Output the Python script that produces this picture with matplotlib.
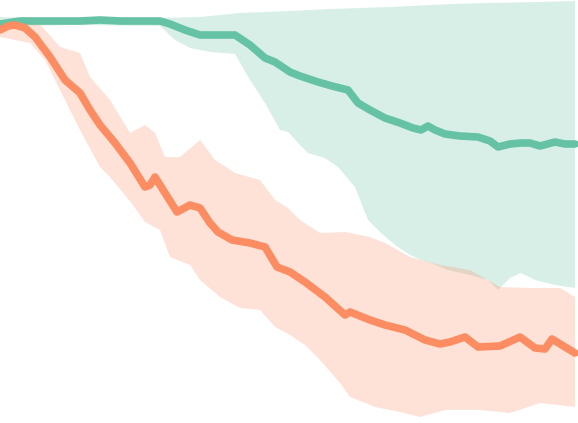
import matplotlib.pyplot as plt

# green series (mean line + band)
green_x = [0, 20, 40, 60, 80, 100, 120, 140, 160, 170, 185, 200, 215, 235, 250, 265, 275, 290, 300, 318,
           332, 348, 358, 370, 385, 400, 413, 421, 428, 435, 445, 460, 478, 490, 498, 510, 521, 530, 540,
           555, 565, 575]
green_y = [24, 21, 21, 21, 21, 20, 21, 21, 21, 24, 30, 35, 35, 35, 45, 58, 62, 72, 76, 82,
           86, 90, 103, 110, 118, 123, 128, 130, 126, 130, 134, 136, 137, 141, 147, 144, 143, 143, 146,
           142, 144, 144]
green_up_x = [0, 40, 80, 120, 160, 200, 240, 290, 330, 390, 450, 490, 540, 575]
green_up_y = [17, 18, 18, 18, 18, 17, 13, 11, 9, 7, 4, 3, 2, 1]
green_lo_x = [0, 80, 160, 175, 190, 210, 235, 250, 265, 280, 288, 300, 308, 325, 338, 355, 362, 368,
              381, 395, 410, 421, 431, 448, 470, 488, 498, 510, 521, 535, 555, 575]
green_lo_y = [26, 25, 26, 40, 48, 52, 54, 80, 103, 130, 132, 145, 153, 158, 167, 187, 205, 220,
              233, 245, 255, 260, 263, 270, 275, 280, 290, 278, 273, 280, 285, 288]

# orange series
orange_x = [0, 8, 15, 25, 35, 50, 65, 80, 90, 100, 115, 130, 145, 150, 155, 160, 165, 177, 190, 200,
            210, 218, 232, 250, 265, 277, 290, 305, 325, 345, 350, 370, 385, 405, 425, 440, 450, 465,
            478, 500, 520, 535, 545, 552, 565, 575]
orange_y = [30, 26, 25, 28, 37, 57, 80, 93, 110, 125, 143, 163, 187, 185, 177, 185, 193, 212, 205, 208,
            223, 232, 240, 243, 247, 267, 272, 282, 297, 315, 312, 320, 325, 330, 340, 344, 342, 337,
            347, 346, 337, 348, 349, 339, 347, 353]
orange_up_x = [0, 20, 40, 45, 60, 80, 90, 110, 130, 145, 155, 165, 180, 200, 215, 235, 260, 275, 288,
               300, 320, 345, 370, 385, 410, 440, 470, 500, 530, 560, 575]
orange_up_y = [25, 22, 25, 30, 47, 53, 77, 100, 133, 125, 133, 157, 157, 140, 160, 173, 180, 200, 208,
               220, 233, 232, 237, 243, 257, 265, 270, 287, 288, 288, 297]
orange_lo_x = [0, 30, 45, 60, 80, 100, 110, 133, 145, 160, 170, 190, 200, 220, 240, 260, 275, 290,
               305, 320, 340, 350, 375, 400, 420, 445, 480, 510, 540, 575]
orange_lo_y = [37, 43, 60, 90, 130, 167, 177, 205, 222, 230, 257, 265, 280, 297, 308, 310, 327, 335,
               345, 360, 383, 397, 407, 412, 417, 410, 410, 413, 403, 407]

green = '#66c2a5'
orange = '#fc8d62'

fig = plt.figure(figsize=(5.78, 4.23), dpi=100)
ax = fig.add_axes([0, 0, 1, 1])

ax.fill(green_up_x + green_lo_x[::-1], green_up_y + green_lo_y[::-1],
        color=green, alpha=0.25, lw=0)
ax.plot(green_x, green_y, color=green, lw=5.5, solid_capstyle='round', solid_joinstyle='round')
ax.fill(orange_up_x + orange_lo_x[::-1], orange_up_y + orange_lo_y[::-1],
        color=orange, alpha=0.25, lw=0)
ax.plot(orange_x, orange_y, color=orange, lw=5.5, solid_capstyle='round', solid_joinstyle='round')

ax.set_xlim(0, 578)
ax.set_ylim(423, 0)
ax.axis('off')

fig.savefig('out.png', dpi=100)
